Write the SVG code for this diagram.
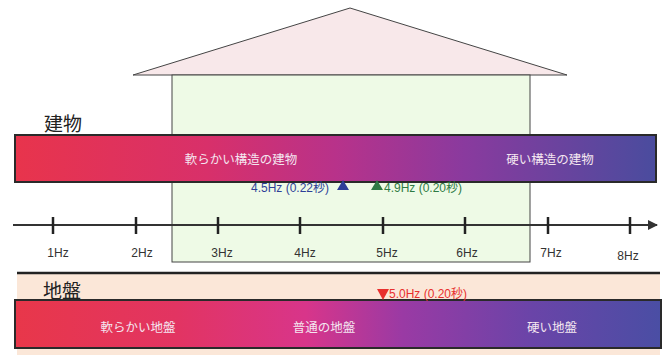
<svg xmlns="http://www.w3.org/2000/svg" width="669" height="355" viewBox="0 0 669 355">
<defs>
<linearGradient id="gBuild" x1="0" y1="0" x2="1" y2="0">
<stop offset="0" stop-color="#e8344c"/>
<stop offset="0.3" stop-color="#d8306a"/>
<stop offset="0.5" stop-color="#b8328a"/>
<stop offset="0.7" stop-color="#8a3a9e"/>
<stop offset="1" stop-color="#4a4c9e"/>
</linearGradient>
<linearGradient id="gGround" x1="0" y1="0" x2="1" y2="0">
<stop offset="0" stop-color="#e8374a"/>
<stop offset="0.25" stop-color="#e23462"/>
<stop offset="0.45" stop-color="#d8358a"/>
<stop offset="0.6" stop-color="#9a3aa4"/>
<stop offset="0.8" stop-color="#6a44a8"/>
<stop offset="1" stop-color="#4a4ea4"/>
</linearGradient>
<marker id="arr" markerWidth="10" markerHeight="10" refX="9" refY="5" orient="auto" markerUnits="userSpaceOnUse">
<path d="M0,0 L10,5 L0,10 Z" fill="#333"/>
</marker>
</defs>
<style>
.lbl{font-family:"Liberation Sans","Noto Sans CJK JP",sans-serif;}
.title{font-size:19px;fill:#222;font-family:"Noto Sans CJK JP",sans-serif;}
.bar-t{font-size:12.5px;fill:#f4e6f0;text-anchor:middle;font-family:"Noto Sans CJK JP",sans-serif;}
.hz{font-size:12px;fill:#333;text-anchor:middle;}
.tick{stroke:#222;stroke-width:2.5;}
</style>
<rect width="669" height="355" fill="#ffffff"/>
<g id="house">
<polygon points="350,8 133,75 567,75" fill="#f8e8ea" stroke="#444" stroke-width="1"/>
<rect x="172" y="75" width="358" height="187" fill="#eefae6" stroke="#444" stroke-width="1"/>
</g>
<g id="ground-band">
<rect x="17" y="273" width="643" height="82" fill="#fbe7d8"/>
<line x1="17" y1="273" x2="660" y2="273" stroke="#222" stroke-width="2.5"/>
</g>
<g id="building">
<text class="title" x="44" y="131">建物</text>
<rect x="15" y="135" width="641" height="47" fill="url(#gBuild)" stroke="#2a2a2a" stroke-width="2"/>
<text class="bar-t" x="241" y="164">軟らかい構造の建物</text>
<text class="bar-t" x="550" y="164">硬い構造の建物</text>
</g>
<g id="connectors">
<line x1="13" y1="225" x2="657" y2="225" stroke="#333" stroke-width="2" marker-end="url(#arr)"/>
<line class="tick" x1="53" y1="217" x2="53" y2="234"/>
<line class="tick" x1="136" y1="217" x2="136" y2="234"/>
<line class="tick" x1="218" y1="217" x2="218" y2="234"/>
<line class="tick" x1="300" y1="217" x2="300" y2="234"/>
<line class="tick" x1="383" y1="217" x2="383" y2="234"/>
<line class="tick" x1="465" y1="217" x2="465" y2="234"/>
<line class="tick" x1="548" y1="217" x2="548" y2="234"/>
<line class="tick" x1="630" y1="217" x2="630" y2="234"/>
</g>
<g id="axis-labels">
<text class="lbl hz" x="58" y="257">1Hz</text>
<text class="lbl hz" x="142" y="257">2Hz</text>
<text class="lbl hz" x="222" y="257">3Hz</text>
<text class="lbl hz" x="305" y="257">4Hz</text>
<text class="lbl hz" x="387" y="257">5Hz</text>
<text class="lbl hz" x="467" y="257">6Hz</text>
<text class="lbl hz" x="551" y="257">7Hz</text>
<text class="lbl hz" x="628" y="260">8Hz</text>
</g>
<g id="marker-45">
<text class="lbl" x="251" y="192" font-size="12" fill="#2e3f98">4.5Hz (0.22秒)</text>
<polygon points="337,190 343,180 349,190" fill="#2e3f98"/>
</g>
<g id="marker-49">
<polygon points="371,190 377,180 383,190" fill="#2e7a44"/>
<text class="lbl" x="384" y="192" font-size="12" fill="#2e7a44">4.9Hz (0.20秒)</text>
</g>
<g id="ground">
<text class="title" x="43" y="298">地盤</text>
<rect x="15" y="300" width="646" height="48" fill="url(#gGround)" stroke="#2a2a2a" stroke-width="2"/>
<text class="bar-t" x="138" y="332">軟らかい地盤</text>
<text class="bar-t" x="324" y="332">普通の地盤</text>
<text class="bar-t" x="552" y="332">硬い地盤</text>
</g>
<g id="marker-50">
<polygon points="377,289 389,289 383,300" fill="#e8302e"/>
<text class="lbl" x="389" y="298" font-size="12" fill="#e8302e">5.0Hz (0.20秒)</text>
</g>
</svg>
